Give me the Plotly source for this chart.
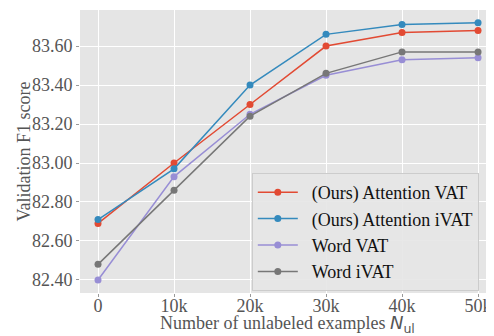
import plotly.graph_objects as go

x_vals = [0, 10000, 20000, 30000, 40000, 50000]
x_ticklabels = ["0", "10k", "20k", "30k", "40k", "50k"]
att_vat = [82.69, 83.00, 83.30, 83.60, 83.67, 83.68]
att_ivat = [82.71, 82.97, 83.40, 83.66, 83.71, 83.72]
word_vat = [82.40, 82.93, 83.25, 83.45, 83.53, 83.54]
word_ivat = [82.48, 82.86, 83.24, 83.46, 83.57, 83.57]
y_ticks = [82.40, 82.60, 82.80, 83.00, 83.20, 83.40, 83.60]
y_ticklabels = ["82.40", "82.60", "82.80", "83.00", "83.20", "83.40", "83.60"]

series = [
    ("(Ours) Attention VAT", att_vat, "#E24A33"),
    ("(Ours) Attention iVAT", att_ivat, "#348ABD"),
    ("Word VAT", word_vat, "#988ED5"),
    ("Word iVAT", word_ivat, "#777777"),
]

NB = "\u00a0\u00a0"
fig = go.Figure()
for name, ys, c in series:
    fig.add_trace(go.Scatter(x=x_vals, y=ys, name=NB + name, mode="lines+markers",
                             line=dict(color=c, width=1.5),
                             marker=dict(color=c, size=7)))

font = "Liberation Serif"
# page body has an 8px margin, so the figure is sized to fit the window
fig.update_layout(
    template="none",
    width=486, height=328,
    margin=dict(l=72, r=0, t=2, b=43),
    paper_bgcolor="white", plot_bgcolor="#E5E5E5",
    font=dict(family=font, color="#555555", size=18),
    showlegend=True,
    legend=dict(x=0.415, y=0.424, xanchor="left", yanchor="top",
                bgcolor="rgba(229,229,229,0.9)", bordercolor="#CCCCCC", borderwidth=1,
                font=dict(family=font, size=18, color="#111111"),
                tracegroupgap=0, itemwidth=40),
    annotations=[
        dict(text="Number of unlabeled examples <span style='font-family:DejaVu Sans'><i>N</i><sub>ul</sub></span>",
             xref="paper", yref="paper", x=0.5, y=0, xanchor="center", yanchor="top",
             yshift=-17, showarrow=False, font=dict(family=font, size=18, color="#555555")),
        dict(text="Validation F1 score", textangle=-90,
             xref="paper", yref="paper", x=0, y=0.5, xanchor="center", yanchor="middle",
             xshift=-57, showarrow=False, font=dict(family=font, size=18, color="#555555")),
    ],
)
fig.update_xaxes(range=[-2370, 52100], tickvals=x_vals, ticktext=x_ticklabels,
                 showgrid=True, gridcolor="white", gridwidth=1.2, zeroline=False,
                 showline=False,
                 ticks="outside", ticklen=3, tickwidth=1, tickcolor="#999999", automargin=False,
                 ticklabelstandoff=-7,
                 tickfont=dict(family=font, size=18, color="#555555"))
fig.update_yaxes(range=[82.333, 83.785], tickvals=y_ticks, ticktext=y_ticklabels,
                 showgrid=True, gridcolor="white", gridwidth=1.2, zeroline=False,
                 showline=False,
                 ticks="outside", ticklen=3, tickwidth=1, tickcolor="#999999", automargin=False,
                 tickfont=dict(family=font, size=18, color="#555555"))

fig.write_html("out.html")
